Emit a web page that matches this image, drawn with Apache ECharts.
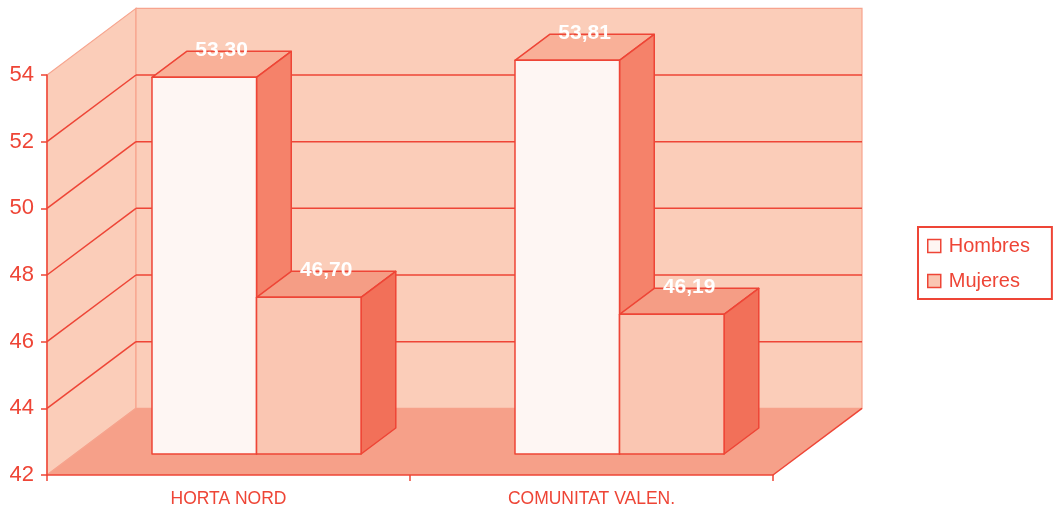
<!DOCTYPE html>
<html>
<head>
<meta charset="utf-8">
<script src="https://cdn.jsdelivr.net/npm/echarts@6/dist/echarts.min.js"></script>
<style>
  html, body { margin: 0; padding: 0; background: #ffffff; }
  #chart { width: 1058px; height: 513px; }
</style>
</head>
<body>
<div id="chart"></div>
<script>
const categories = ["HORTA NORD", "COMUNITAT VALEN."];
const hombres = [53.3, 53.81];
const mujeres = [46.7, 46.19];
const yTicks = [42, 44, 46, 48, 50, 52, 54];

const RED = "#EE4536";
const EDGE = "#F7A48E";
const WALL = "#FBCDB9";
const FLOOR = "#F6A089";
const FONT = "Liberation Sans, Arial, sans-serif";

// 3D projection: full depth = 89px right, one tick interval up
const DEPTH_X = 89;
const DEPTH_UNITS = 2;
const BAR_FRONT = 0.315;
const BAR_BACK = 0.705;
const BAR_RATIO = 0.288;

const SERIES_STYLE = {
  Hombres: { front: "#FEF6F3", top: "#F9B098", side: "#F5826A", side_: -1 },
  Mujeres: { front: "#FAC6B2", top: "#F59D85", side: "#F27059", side_: 0 },
};

function frameBox(api) {
  const band = api.size([1, 0])[0];
  const x0 = api.coord([0, 42])[0] - band / 2;
  const x1 = api.coord([categories.length - 1, 42])[0] + band / 2;
  const yb = api.coord([0, 42])[1];
  const yt = api.coord([0, 54])[1];
  const dy = -api.size([0, DEPTH_UNITS])[1];
  return { x0, x1, yb, yt, dx: DEPTH_X, dy, band };
}

function renderWalls(params, api) {
  const b = frameBox(api);
  const { x0, x1, yb, yt, dx, dy } = b;
  return {
    type: "group",
    children: [
      {
        type: "polygon",
        shape: { points: [[x0, yb], [x0, yt], [x0 + dx, yt + dy], [x0 + dx, yb + dy]] },
        style: { fill: WALL, stroke: EDGE, lineWidth: 1.2 },
      },
      {
        type: "rect",
        shape: { x: x0 + dx, y: yt + dy, width: x1 - x0, height: yb - yt },
        style: { fill: WALL, stroke: EDGE, lineWidth: 1.2 },
      },
      {
        type: "polygon",
        shape: { points: [[x0, yb], [x1, yb], [x1 + dx, yb + dy], [x0 + dx, yb + dy]] },
        style: { fill: FLOOR },
      },
      {
        type: "line",
        shape: { x1: x0, y1: yb, x2: x0 + dx, y2: yb + dy },
        style: { stroke: EDGE, lineWidth: 1.2 },
      },
      {
        type: "line",
        shape: { x1: x1, y1: yb, x2: x1 + dx, y2: yb + dy },
        style: { stroke: RED, lineWidth: 1.5 },
      },
    ],
  };
}

function renderGrid(params, api) {
  const v = api.value(0);
  if (v === yTicks[0] || v === yTicks[yTicks.length - 1]) return null;
  const b = frameBox(api);
  const y = api.coord([0, v])[1];
  return {
    type: "group",
    children: [
      {
        type: "line",
        shape: { x1: b.x0, y1: y, x2: b.x0 + b.dx, y2: y + b.dy },
        style: { stroke: RED, lineWidth: 1.5 },
      },
      {
        type: "line",
        shape: { x1: b.x0 + b.dx, y1: y + b.dy, x2: b.x1 + b.dx, y2: y + b.dy },
        style: { stroke: RED, lineWidth: 1.5 },
      },
    ],
  };
}

function makeBarRenderer(name) {
  const st = SERIES_STYLE[name];
  return function (params, api) {
    const b = frameBox(api);
    const top = api.coord([api.value(0), api.value(1)]);
    const base = api.coord([api.value(0), 42]);
    const bw = b.band * BAR_RATIO;
    const left = top[0] + st.side_ * bw;
    const fx = b.dx * BAR_FRONT, fy = b.dy * BAR_FRONT;
    const bx = b.dx * BAR_BACK, by = b.dy * BAR_BACK;
    const L = left + fx, R = left + bw + fx;
    const T = top[1] + fy, B = base[1] + fy;
    const T2 = top[1] + by, B2 = base[1] + by;
    const L2 = left + bx, R2 = left + bw + bx;
    const line = { stroke: RED, lineWidth: 1.5, lineJoin: "round" };
    return {
      type: "group",
      children: [
        { type: "polygon", shape: { points: [[L, T], [R, T], [R2, T2], [L2, T2]] }, style: Object.assign({ fill: st.top }, line) },
        { type: "polygon", shape: { points: [[R, T], [R2, T2], [R2, B2], [R, B]] }, style: Object.assign({ fill: st.side }, line) },
        { type: "rect", shape: { x: L, y: T, width: bw, height: B - T }, style: Object.assign({ fill: st.front }, line) },
        {
          type: "text",
          style: {
            text: api.value(1).toFixed(2).replace(".", ","),
            x: (L + R2) / 2,
            y: T2 - 1,
            fill: "#ffffff",
            font: "bold 21px " + FONT,
            align: "center",
            verticalAlign: "middle",
          },
        },
      ],
    };
  };
}

const chart = echarts.init(document.getElementById("chart"), null, { renderer: "canvas" });

chart.setOption({
  backgroundColor: "#ffffff",
  animation: false,
  color: [SERIES_STYLE.Hombres.front, SERIES_STYLE.Mujeres.front],
  grid: { left: 47, right: 285, top: 75, bottom: 38, containLabel: false },
  legend: {
    data: ["Hombres", "Mujeres"],
    orient: "vertical",
    left: 918,
    top: 227,
    padding: [9, 22, 8, 9],
    itemGap: 15,
    itemWidth: 13,
    itemHeight: 13,
    icon: "rect",
    borderColor: RED,
    borderWidth: 2,
    itemStyle: { borderColor: RED, borderWidth: 1.5 },
    textStyle: { color: RED, fontSize: 20, lineHeight: 20, fontFamily: FONT, padding: [0, 0, 0, 3] },
    selectedMode: false,
  },
  xAxis: {
    type: "category",
    data: categories,
    z: 10,
    axisLine: { lineStyle: { color: RED, width: 1.5 } },
    axisTick: { show: true, length: 6, lineStyle: { color: RED, width: 1.5 } },
    axisLabel: { color: RED, fontSize: 17.5, fontFamily: FONT, margin: 15 },
    splitLine: { show: false },
  },
  yAxis: {
    type: "value",
    min: 42,
    max: 54,
    interval: 2,
    z: 10,
    axisLine: { show: true, lineStyle: { color: RED, width: 1.5 } },
    axisTick: { show: true, length: 6, lineStyle: { color: RED, width: 1.5 } },
    axisLabel: { color: RED, fontSize: 22, fontFamily: FONT, margin: 13 },
    splitLine: { show: false },
  },
  series: [
    { name: "walls", type: "custom", silent: true, renderItem: renderWalls, data: [[0, 42]], z: 1 },
    {
      name: "grid",
      type: "custom",
      silent: true,
      renderItem: renderGrid,
      encode: { y: 0 },
      data: yTicks.map((v) => [v]),
      z: 2,
    },
    {
      name: "Hombres",
      type: "custom",
      renderItem: makeBarRenderer("Hombres"),
      itemStyle: { color: SERIES_STYLE.Hombres.front },
      data: categories.map((c, i) => [i, hombres[i]]),
      z: 3,
    },
    {
      name: "Mujeres",
      type: "custom",
      renderItem: makeBarRenderer("Mujeres"),
      itemStyle: { color: SERIES_STYLE.Mujeres.front },
      data: categories.map((c, i) => [i, mujeres[i]]),
      z: 3,
    },
  ],
});
</script>
</body>
</html>
